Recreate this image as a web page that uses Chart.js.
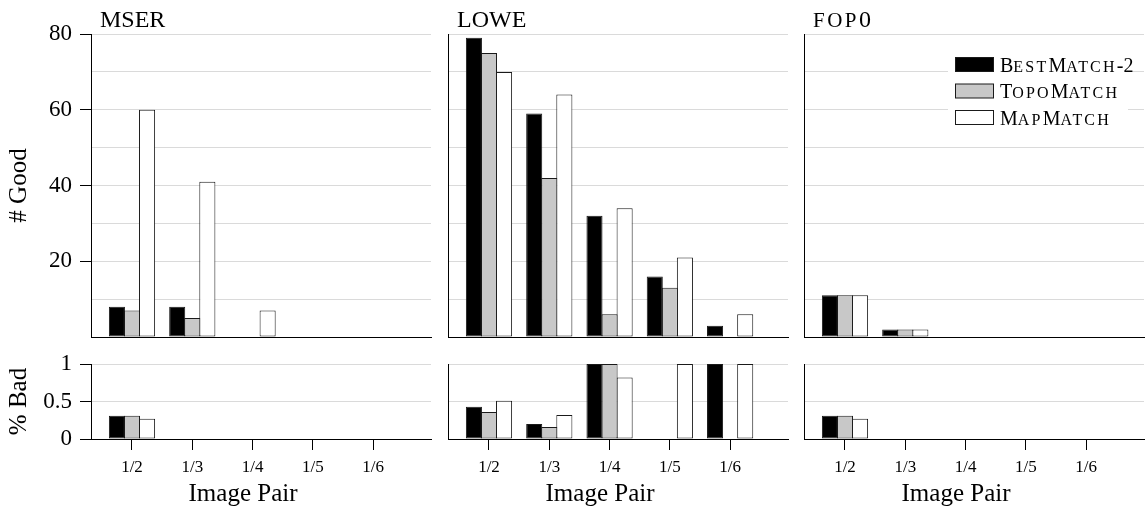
<!DOCTYPE html>
<html>
<head>
<meta charset="utf-8">
<title>Good and bad matches per image pair</title>
<script src="https://cdn.jsdelivr.net/npm/chart.js@4.4.1/dist/chart.umd.min.js"></script>
<style>
  body { margin: 0; background: #fff; }
  #figure { position: relative; width: 1148px; height: 506px; }
  .panel { position: absolute; }
</style>
</head>
<body>
<div id="figure">
  <div class="panel" style="left:0;top:0;width:432px;height:338px"><canvas id="good-mser"></canvas></div>
  <div class="panel" style="left:440px;top:0;width:349px;height:338px"><canvas id="good-lowe"></canvas></div>
  <div class="panel" style="left:796px;top:0;width:352px;height:338px"><canvas id="good-fop"></canvas></div>
  <div class="panel" style="left:0;top:340px;width:432px;height:166px"><canvas id="bad-mser"></canvas></div>
  <div class="panel" style="left:440px;top:340px;width:349px;height:166px"><canvas id="bad-lowe"></canvas></div>
  <div class="panel" style="left:796px;top:340px;width:352px;height:166px"><canvas id="bad-fop"></canvas></div>
</div>
<script>
const pairLabels = ['1/2', '1/3', '1/4', '1/5', '1/6'];
const methodNames = ['BestMatch-2', 'TopoMatch', 'MapMatch'];
const methodColors = ['#000000', '#c8c8c8', '#ffffff'];

// number of good matches, one row per method
const mserGood = [[8, 8, 0, 0, 0], [7, 5, 0, 0, 0], [60, 41, 7, 0, 0]];
const loweGood = [[79, 59, 32, 16, 3], [75, 42, 6, 13, 0], [70, 64, 34, 21, 6]];
const fopGood = [[11, 2, 0, 0, 0], [11, 2, 0, 0, 0], [11, 2, 0, 0, 0]];

// fraction of bad matches
const mserBad = [[0.31, 0, 0, 0, 0], [0.31, 0, 0, 0, 0], [0.27, 0, 0, 0, 0]];
const loweBad = [[0.43, 0.2, 1, 0, 1], [0.36, 0.16, 1, 0, 0], [0.51, 0.32, 0.82, 1, 1]];
const fopBad = [[0.31, 0, 0, 0, 0], [0.31, 0, 0, 0, 0], [0.27, 0, 0, 0, 0]];

const serif = '"Liberation Serif", "Times New Roman", serif';
const gridColor = '#dadada';
const barEdge = '#1a1a1a';

Chart.defaults.font.family = serif;
Chart.defaults.color = '#000';

// lowercase runs are drawn as small capitals
function drawSmallCaps(ctx, text, x, y, size, smallSize, spacing) {
    const runs = text.match(/[a-z]+|[^a-z]+/g) || [];
    runs.forEach(run => {
        const small = /^[a-z]/.test(run);
        const glyphs = small ? run.toUpperCase() : run;
        ctx.font = `${small ? smallSize : size}px ${serif}`;
        ctx.letterSpacing = small ? `${spacing}px` : '0px';
        ctx.fillText(glyphs, x, y);
        x += ctx.measureText(glyphs).width;
    });
    ctx.letterSpacing = '0px';
}

function drawLegend(chart) {
    const ctx = chart.ctx;
    const area = chart.chartArea;
    ctx.fillStyle = '#fff';
    ctx.fillRect(area.left + 144, area.top + 16, 180, 80);
    chart.data.datasets.forEach((ds, i) => {
        const cy = area.top + 30.5 + i * 26.5;
        ctx.fillStyle = ds.backgroundColor;
        ctx.fillRect(area.left + 151.5, cy - 7, 38, 14);
        ctx.strokeStyle = barEdge;
        ctx.lineWidth = 1;
        ctx.strokeRect(area.left + 151.5, cy - 7, 38, 14);
        ctx.fillStyle = '#000';
        ctx.textAlign = 'left';
        drawSmallCaps(ctx, ds.label, area.left + 196, cy + 7, 20, 16, 2.2);
    });
}

// panel title, x caption and legend
const panelText = {
    id: 'panelText',
    afterDraw(chart, _args, opts) {
        const ctx = chart.ctx;
        const area = chart.chartArea;
        ctx.save();
        ctx.fillStyle = '#000';
        ctx.textBaseline = 'alphabetic';
        if (opts.title) {
            ctx.textAlign = 'left';
            drawSmallCaps(ctx, opts.title, area.left + 9, area.top - 7, 24, 21, 2.5);
        }
        if (opts.caption) {
            ctx.font = `25px ${serif}`;
            ctx.textAlign = 'center';
            ctx.fillText(opts.caption, area.left + 152, area.bottom + 62);
        }
        if (opts.legend) drawLegend(chart);
        ctx.restore();
    }
};

function xScale(showTicks) {
    return {
        type: 'linear',
        min: 0.32,
        max: 5.96,
        offset: false,
        border: { display: true, color: '#000', width: 1 },
        grid: {
            display: showTicks,
            offset: false,
            drawOnChartArea: false,
            tickLength: 11,
            tickColor: '#000'
        },
        ticks: {
            display: showTicks,
            stepSize: 1,
            includeBounds: false,
            autoSkip: false,
            maxRotation: 0,
            padding: 7,
            font: { size: 17 },
            callback: v => pairLabels[v - 1] || ''
        },
        afterFit: s => {
            s.height = showTicks ? 67 : 1;
            s.paddingLeft = 0;
            s.paddingRight = 0;
        }
    };
}

function yScale(good, showLabels) {
    const labelled = v => good ? (v > 0 && v % 20 === 0) : true;
    return {
        min: 0,
        max: good ? 80 : 1,
        border: { display: true, color: '#000', width: 1 },
        grid: {
            color: gridColor,
            lineWidth: 1,
            drawTicks: showLabels,
            tickLength: 11,
            tickColor: ctx => (ctx.tick && labelled(ctx.tick.value)) ? '#000' : 'rgba(0,0,0,0)'
        },
        ticks: {
            display: showLabels,
            stepSize: good ? 10 : 0.5,
            padding: 8,
            font: { size: 23 },
            callback: v => labelled(v) ? String(v) : ''
        },
        title: {
            display: showLabels,
            text: good ? '# Good' : '% Bad',
            font: { size: 25 },
            padding: { top: 4, bottom: 4 }
        },
        afterFit: s => {
            s.width = showLabels ? 91 : 8;
            s.paddingTop = 0;
            s.paddingBottom = 0;
        }
    };
}

function drawPanel(canvasId, series, opts) {
    return new Chart(document.getElementById(canvasId), {
        type: 'bar',
        data: {
            datasets: series.map((values, i) => ({
                label: methodNames[i],
                data: values.map((v, j) => ({ x: j + 1, y: v })),
                backgroundColor: methodColors[i],
                borderColor: barEdge,
                borderWidth: 1,
                borderSkipped: false,
                categoryPercentage: 0.75,
                barPercentage: 1.066
            }))
        },
        options: {
            responsive: true,
            maintainAspectRatio: false,
            animation: false,
            events: [],
            layout: {
                padding: { top: opts.good ? 34 : 24, right: opts.right, left: 0, bottom: 0 }
            },
            plugins: {
                legend: { display: false },
                tooltip: { enabled: false },
                panelText: {
                    title: opts.title,
                    caption: opts.good ? null : 'Image Pair',
                    legend: !!opts.legend
                }
            },
            scales: {
                x: xScale(!opts.good),
                y: yScale(opts.good, !!opts.labels)
            }
        },
        plugins: [panelText]
    });
}

drawPanel('good-mser', mserGood, { good: true, labels: true, right: 1, title: 'MSER' });
drawPanel('good-lowe', loweGood, { good: true, right: 1, title: 'LOWE' });
drawPanel('good-fop', fopGood, { good: true, right: 4, title: 'fop0', legend: true });
drawPanel('bad-mser', mserBad, { good: false, labels: true, right: 1 });
drawPanel('bad-lowe', loweBad, { good: false, right: 1 });
drawPanel('bad-fop', fopBad, { good: false, right: 4 });
</script>
</body>
</html>
